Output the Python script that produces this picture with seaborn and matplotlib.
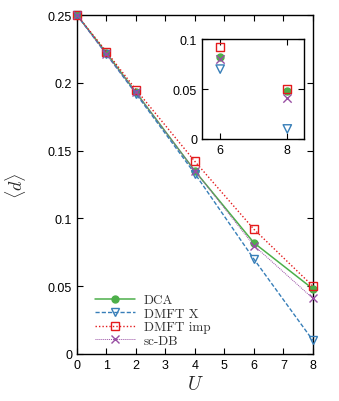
import numpy as np
import pandas as pd
import matplotlib
matplotlib.use("Agg")
import matplotlib.pyplot as plt
import seaborn as sns

# values
U = [0, 1, 2, 4, 6, 8]
dca = [0.250, 0.222, 0.193, 0.135, 0.082, 0.048]
dmft_x = [0.250, 0.221, 0.192, 0.133, 0.070, 0.010]
dmft_imp = [0.250, 0.223, 0.195, 0.142, 0.092, 0.050]
sc_db = [0.250, 0.221, 0.193, 0.135, 0.080, 0.041]

series = {
    "DCA": dca,
    "DMFT X": dmft_x,
    "DMFT imp": dmft_imp,
    "sc-DB": sc_db,
}
styles = {
    "DCA": dict(color="#4daf4a", ls="-", marker="o", mfc="#4daf4a", ms=5, lw=1.1),
    "DMFT X": dict(color="#377eb8", ls=(0, (3, 1.5)), marker="v", mfc="none", ms=6, lw=1.0),
    "DMFT imp": dict(color="#e41a1c", ls=(0, (1, 1.5)), marker="s", mfc="none", ms=6, lw=1.0),
    "sc-DB": dict(color="#984ea3", ls=(0, (1, 1)), marker="x", mfc="none", ms=6, lw=0.7),
}

sns.set_style("ticks")
plt.rcParams["font.family"] = ["Liberation Sans", "DejaVu Sans"]
plt.rcParams["mathtext.fontset"] = "cm"

fig = plt.figure(figsize=(3.39, 4.02), dpi=100)
ax = fig.add_axes([0.227, 0.117, 0.696, 0.843])
ins = fig.add_axes([0.596, 0.652, 0.301, 0.248])

for name, vals in series.items():
    st = styles[name]
    df = pd.DataFrame({"U": U, "d": vals})
    sns.lineplot(data=df, x="U", y="d", ax=ax, color=st["color"], linestyle=st["ls"],
                 linewidth=st["lw"], marker=st["marker"], markersize=st["ms"],
                 markerfacecolor=st["mfc"], markeredgecolor=st["color"], markeredgewidth=1.0,
                 label=name, clip_on=False, zorder=3)
    sub = df[df["U"] >= 6]
    if st["marker"] == "x":
        sns.scatterplot(data=sub, x="U", y="d", ax=ins, marker="x", s=st["ms"] ** 2,
                        color=st["color"], linewidth=1.0, legend=False)
    else:
        sns.scatterplot(data=sub, x="U", y="d", ax=ins, marker=st["marker"],
                        s=st["ms"] ** 2, facecolors=st["mfc"], edgecolor=st["color"],
                        linewidth=1.0, legend=False)

ax.set_xlim(0, 8)
ax.set_ylim(0, 0.25)
ax.set_xticks(range(0, 9))
ax.set_yticks([0, 0.05, 0.1, 0.15, 0.2, 0.25])
ax.set_yticklabels(["0", "0.05", "0.1", "0.15", "0.2", "0.25"])
ax.tick_params(direction="in", top=True, right=True, labelsize=9, length=4, width=0.8,
               colors="black")
ax.set_xlabel(r"$U$", fontsize=14, labelpad=3)
ax.set_ylabel(r"$\langle d\rangle$", fontsize=13, labelpad=14)
for sp in ax.spines.values():
    sp.set_linewidth(1.0)
    sp.set_color("black")

leg = ax.legend(loc="lower left", bbox_to_anchor=(0.055, 0.005), frameon=False,
                prop={"family": "cmr10", "size": 9.5}, handlelength=3.0,
                handletextpad=0.7, labelspacing=0.1, borderaxespad=0.0)
for t in leg.get_texts():
    t.set_color("#333333")

ins.set_xlim(5.46, 8.5)
ins.set_ylim(0, 0.1)
ins.set_xticks([6, 8])
ins.set_yticks([0, 0.05, 0.1])
ins.set_yticklabels(["0", "0.05", "0.1"])
ins.tick_params(direction="in", top=True, right=True, labelsize=9, length=4, width=0.8,
                colors="black")
ins.set_xlabel("")
ins.set_ylabel("")
for sp in ins.spines.values():
    sp.set_linewidth(1.0)
    sp.set_color("black")

fig.savefig("out.png", dpi=100)
